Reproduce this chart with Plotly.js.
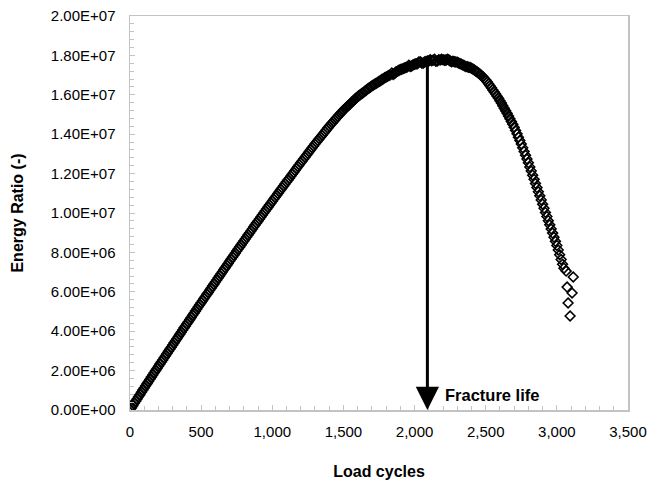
<!DOCTYPE html>
<html>
<head>
<meta charset="utf-8">
<script src="https://cdn.plot.ly/plotly-3.0.1.min.js"></script>
<style>html,body{margin:0;padding:0;background:#fff;}</style>
</head>
<body>
<div id="chart" style="width:648px;height:487px;"></div>
<script>
// Load cycles (x)
const loadCycles = [
  0,10,20,30,40,50,60,70,80,90,100,110,120,130,140,150,160,170,180,190,
  200,210,220,230,240,250,260,270,280,290,300,310,320,330,340,350,360,370,380,390,
  400,410,420,430,440,450,460,470,480,490,500,510,520,530,540,550,560,570,580,590,
  600,610,620,630,640,650,660,670,680,690,700,710,720,730,740,750,760,770,780,790,
  800,810,820,830,840,850,860,870,880,890,900,910,920,930,940,950,960,970,980,990,
  1000,1010,1020,1030,1040,1050,1060,1070,1080,1090,1100,1110,1120,1130,1140,1150,1160,1170,1180,1190,
  1200,1210,1220,1230,1240,1250,1260,1270,1280,1290,1300,1310,1320,1330,1340,1350,1360,1370,1380,1390,
  1400,1410,1420,1430,1440,1450,1460,1470,1480,1490,1500,1510,1520,1530,1540,1550,1560,1570,1580,1590,
  1600,1610,1620,1630,1640,1650,1660,1670,1680,1690,1700,1710,1720,1730,1740,1750,1760,1770,1780,1790,
  1800,1810,1820,1830,1840,1850,1860,1870,1880,1890,1900,1910,1920,1930,1940,1950,1960,1970,1980,1990,
  2000,2010,2020,2030,2040,2050,2060,2070,2080,2090,2100,2110,2120,2130,2140,2150,2160,2170,2180,2190,
  2200,2210,2220,2230,2240,2250,2260,2270,2280,2290,2300,2310,2320,2330,2340,2350,2360,2370,2380,2390,
  2400,2410,2420,2430,2440,2450,2460,2470,2480,2490,2500,2510,2520,2530,2540,2550,2560,2570,2580,2590,
  2600,2610,2620,2630,2640,2650,2660,2670,2680,2690,2700,2710,2720,2730,2740,2750,2760,2770,2780,2790,
  2800,2810,2820,2830,2840,2850,2860,2870,2880,2890,2900,2910,2920,2930,2940,2950,2960,2970,2980,2990,
  3000,3010,3020,3030,3040,3050,
  3065,3115,3072,3107,3079,3093
];
// Energy ratio in millions (x 1e6)
const energyRatioMillions = [
  0.00,0.11,0.22,0.34,0.45,0.56,0.67,0.78,0.90,1.01,1.12,1.23,1.34,1.45,1.56,1.67,1.78,1.89,2.00,2.11,
  2.22,2.33,2.44,2.54,2.65,2.76,2.87,2.98,3.09,3.19,3.30,3.41,3.52,3.62,3.73,3.84,3.95,4.06,4.17,4.27,
  4.38,4.48,4.59,4.70,4.81,4.91,5.02,5.13,5.24,5.34,5.45,5.55,5.66,5.76,5.87,5.97,6.08,6.18,6.29,6.39,
  6.50,6.60,6.71,6.81,6.92,7.02,7.13,7.23,7.34,7.44,7.55,7.65,7.76,7.86,7.96,8.07,8.17,8.27,8.37,8.48,
  8.58,8.68,8.78,8.89,8.99,9.09,9.19,9.30,9.40,9.50,9.60,9.70,9.80,9.90,10.00,10.10,10.20,10.30,10.40,10.50,
  10.60,10.70,10.80,10.89,10.99,11.09,11.19,11.28,11.38,11.48,11.58,11.67,11.77,11.87,11.97,12.06,12.16,12.26,12.36,12.45,
  12.55,12.64,12.74,12.83,12.93,13.02,13.12,13.21,13.31,13.40,13.50,13.59,13.68,13.77,13.86,13.95,14.04,14.13,14.22,14.31,
  14.40,14.49,14.57,14.65,14.73,14.82,14.90,14.98,15.06,15.14,15.22,15.29,15.36,15.42,15.49,15.56,15.63,15.70,15.77,15.84,
  15.90,15.96,16.01,16.07,16.12,16.18,16.23,16.29,16.34,16.40,16.45,16.50,16.54,16.59,16.63,16.68,16.72,16.77,16.81,16.86,
  16.90,16.94,16.98,17.02,17.10,17.03,17.08,17.17,17.20,17.24,17.28,17.30,17.33,17.36,17.39,17.42,17.50,17.44,17.46,17.53,
  17.55,17.57,17.58,17.66,17.68,17.62,17.60,17.67,17.69,17.71,17.72,17.78,17.73,17.75,17.80,17.70,17.72,17.78,17.77,17.80,
  17.78,17.75,17.76,17.80,17.78,17.72,17.68,17.70,17.68,17.67,17.65,17.62,17.58,17.55,17.51,17.48,17.44,17.42,17.40,17.38,
  17.35,17.31,17.26,17.21,17.16,17.10,17.04,16.98,16.91,16.83,16.75,16.66,16.56,16.46,16.36,16.25,16.14,16.04,15.93,15.82,
  15.70,15.58,15.45,15.32,15.19,15.06,14.92,14.78,14.64,14.50,14.35,14.19,14.02,13.85,13.68,13.50,13.31,13.12,12.93,12.74,
  12.55,12.34,12.13,11.92,11.71,11.50,11.29,11.08,10.87,10.66,10.45,10.24,10.03,9.82,9.61,9.40,9.19,8.98,8.77,8.56,
  8.35,8.12,7.88,7.64,7.40,7.20,
  7.05,6.75,6.24,5.94,5.43,4.77
];
const xTickVals = [0,500,1000,1500,2000,2500,3000,3500];
const xTickText = ['0','500','1,000','1,500','2,000','2,500','3,000','3,500'];
const yTickVals = [0,2e6,4e6,6e6,8e6,1e7,1.2e7,1.4e7,1.6e7,1.8e7,2e7];
const yTickText = ['0.00E+00','2.00E+06','4.00E+06','6.00E+06','8.00E+06','1.00E+07','1.20E+07','1.40E+07','1.60E+07','1.80E+07','2.00E+07'];
const fractureLife = 2090;
const fractureArrowTop = 1.76e7;
const fractureLabel = 'Fracture life';

const energyRatio = energyRatioMillions.map(v => v * 1e6);

const axisColor = '#c3c3c3';
const fontFam = '"Liberation Sans", Arial, sans-serif';

const trace = {
  x: loadCycles,
  y: energyRatio,
  type: 'scatter',
  mode: 'markers',
  marker: {symbol: 'diamond-open', size: 7.5, color: '#000', line: {color: '#000', width: 1.6}},
  hoverinfo: 'x+y',
  showlegend: false
};

const layout = {
  width: 648, height: 487,
  margin: {l: 130, r: 20, t: 16, b: 77},
  paper_bgcolor: '#fff', plot_bgcolor: '#fff',
  font: {family: fontFam, size: 15, color: '#000'},
  showlegend: false,
  xaxis: {
    range: [0, 3500], autorange: false,
    tickmode: 'array', tickvals: xTickVals, ticktext: xTickText,
    ticks: 'inside', ticklen: 5, tickwidth: 1, tickcolor: axisColor,
    minor: {ticks: 'inside', dtick: 100, ticklen: 4, tickwidth: 1, tickcolor: axisColor, showgrid: false},
    showline: true, linecolor: axisColor, linewidth: 1.5, mirror: true,
    showgrid: false, zeroline: false,
    tickfont: {family: fontFam, size: 15, color: '#000'},
    ticklabelstandoff: 7,
    title: {text: 'Load cycles', font: {family: fontFam, size: 16, color: '#000', weight: 'bold'}, standoff: 27}
  },
  yaxis: {
    range: [0, 2e7], autorange: false,
    tickmode: 'array', tickvals: yTickVals, ticktext: yTickText,
    ticks: 'inside', ticklen: 5, tickwidth: 1, tickcolor: axisColor,
    minor: {ticks: 'inside', dtick: 4e5, ticklen: 4, tickwidth: 1, tickcolor: axisColor, showgrid: false},
    showline: true, linecolor: axisColor, linewidth: 1.5, mirror: true,
    showgrid: false, zeroline: false,
    tickfont: {family: fontFam, size: 15, color: '#000'},
    ticklabelstandoff: 10,
    title: {text: 'Energy Ratio (-)', font: {family: fontFam, size: 16, color: '#000', weight: 'bold'}, standoff: 23}
  },
  annotations: [
    {
      x: fractureLife, y: 0, xref: 'x', yref: 'y',
      ax: fractureLife, ay: fractureArrowTop, axref: 'x', ayref: 'y',
      text: '', showarrow: true,
      arrowhead: 2, arrowsize: 1.55, arrowwidth: 3, arrowcolor: '#000', standoff: 0
    },
    {
      x: fractureLife + 110, y: 0.75e6, xref: 'x', yref: 'y',
      text: fractureLabel, showarrow: false,
      xanchor: 'left', yanchor: 'middle',
      font: {family: fontFam, size: 16.5, color: '#000', weight: 'bold'}
    }
  ]
};

Plotly.newPlot('chart', [trace], layout, {displayModeBar: false, staticPlot: true});
</script>
</body>
</html>
